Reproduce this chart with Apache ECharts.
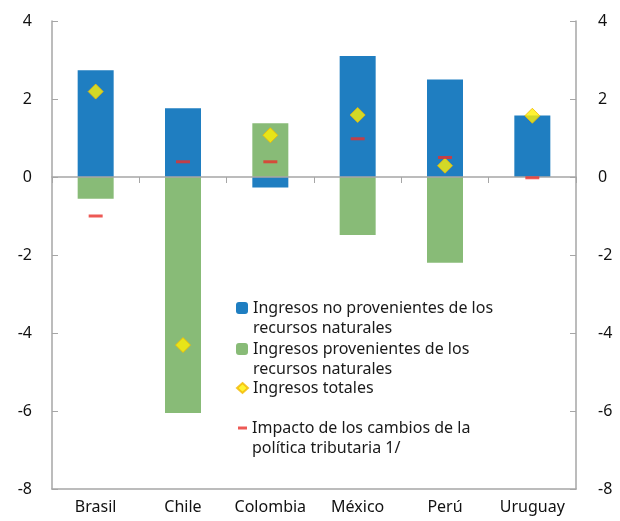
<!DOCTYPE html>
<html>
<head>
<meta charset="utf-8">
<script src="https://cdn.jsdelivr.net/npm/echarts@6/dist/echarts.min.js"></script>
<style>html,body{margin:0;padding:0;background:#fff}#c{width:620px;height:521px}</style>
</head>
<body>
<div id="c"></div>
<script>
var categories = ['Brasil', 'Chile', 'Colombia', 'México', 'Perú', 'Uruguay'];
var noNaturales = [2.74, 1.76, -0.27, 3.10, 2.50, 1.58];
var naturales = [-0.56, -6.05, 1.38, -1.49, -2.20, 0];
var totales = [2.19, -4.31, 1.07, 1.59, 0.29, 1.57];
var impacto = [-1.00, 0.39, 0.39, 0.98, 0.50, -0.02];
var yTicks = [-8, -6, -4, -2, 0, 2, 4];

var names = [
  'Ingresos no provenientes de los\nrecursos naturales',
  'Ingresos provenientes de los\nrecursos naturales',
  'Ingresos totales',
  'Impacto de los cambios de la\npolítica tributaria 1/'
];

var FONT = 'Noto Sans';
var axisGray = '#A6A6A6';
var legendText = {fontFamily: FONT, fontSize: 16, color: '#1a1a1a', lineHeight: 20};
function twoLine(name) { return ' \n' + name; }

var chart = echarts.init(document.getElementById('c'), null, {renderer: 'canvas'});
chart.setOption({
  animation: false,
  grid: {left: 52, right: 44, top: 21, bottom: 32, containLabel: false},
  legend: [
    {data: [names[0]], left: 231, top: 273, itemWidth: 12, itemHeight: 12, textStyle: legendText, formatter: twoLine, selectedMode: false},
    {data: [names[1]], left: 231, top: 314, itemWidth: 12, itemHeight: 12, textStyle: legendText, formatter: twoLine, selectedMode: false},
    {data: [names[2]], left: 231, top: 373, itemWidth: 11, itemHeight: 10, textStyle: legendText, selectedMode: false},
    {data: [names[3]], left: 233, top: 393, itemWidth: 9, itemHeight: 3, textStyle: legendText, formatter: twoLine, selectedMode: false}
  ],
  xAxis: [
    {
      type: 'category', data: categories, position: 'bottom',
      axisLine: {onZero: true, lineStyle: {color: axisGray, width: 1.5}},
      axisTick: {show: true, length: 6, lineStyle: {color: axisGray}},
      axisLabel: {show: false}, z: 5
    },
    {
      type: 'category', data: categories, position: 'bottom',
      axisLine: {onZero: false, lineStyle: {color: axisGray, width: 1.5}},
      axisTick: {show: false},
      axisLabel: {show: true, interval: 0, hideOverlap: false, fontFamily: FONT, fontSize: 16, color: '#111', margin: 10}
    }
  ],
  yAxis: [
    {
      type: 'value', min: -8, max: 4, interval: 2, position: 'left',
      axisLine: {show: true, onZero: false, lineStyle: {color: axisGray, width: 1.5}},
      axisTick: {show: true, inside: true, length: 6, lineStyle: {color: axisGray}},
      splitLine: {show: false},
      axisLabel: {fontFamily: FONT, fontSize: 16, color: '#111', margin: 20}
    },
    {
      type: 'value', min: -8, max: 4, interval: 2, position: 'right',
      axisLine: {show: true, onZero: false, lineStyle: {color: axisGray, width: 1.5}},
      axisTick: {show: true, inside: true, length: 6, lineStyle: {color: axisGray}},
      splitLine: {show: false},
      axisLabel: {fontFamily: FONT, fontSize: 16, color: '#111', margin: 22}
    }
  ],
  series: [
    {
      name: names[0], type: 'bar', stack: 'a', data: noNaturales, barWidth: 36,
      itemStyle: {color: '#1F7EC1'}
    },
    {
      name: names[1], type: 'bar', stack: 'a', data: naturales, barWidth: 36,
      itemStyle: {color: '#88BB77'}
    },
    {
      name: names[2], type: 'scatter', data: totales, symbol: 'diamond', symbolSize: [15, 15],
      itemStyle: {color: '#FFF000', borderColor: '#F2B800', borderWidth: 1}, z: 10
    },
    {
      name: names[3], type: 'scatter', data: impacto, symbol: 'rect', symbolSize: [14, 3],
      itemStyle: {color: '#E8302A'}, z: 11
    }
  ]
});
</script>
</body>
</html>
